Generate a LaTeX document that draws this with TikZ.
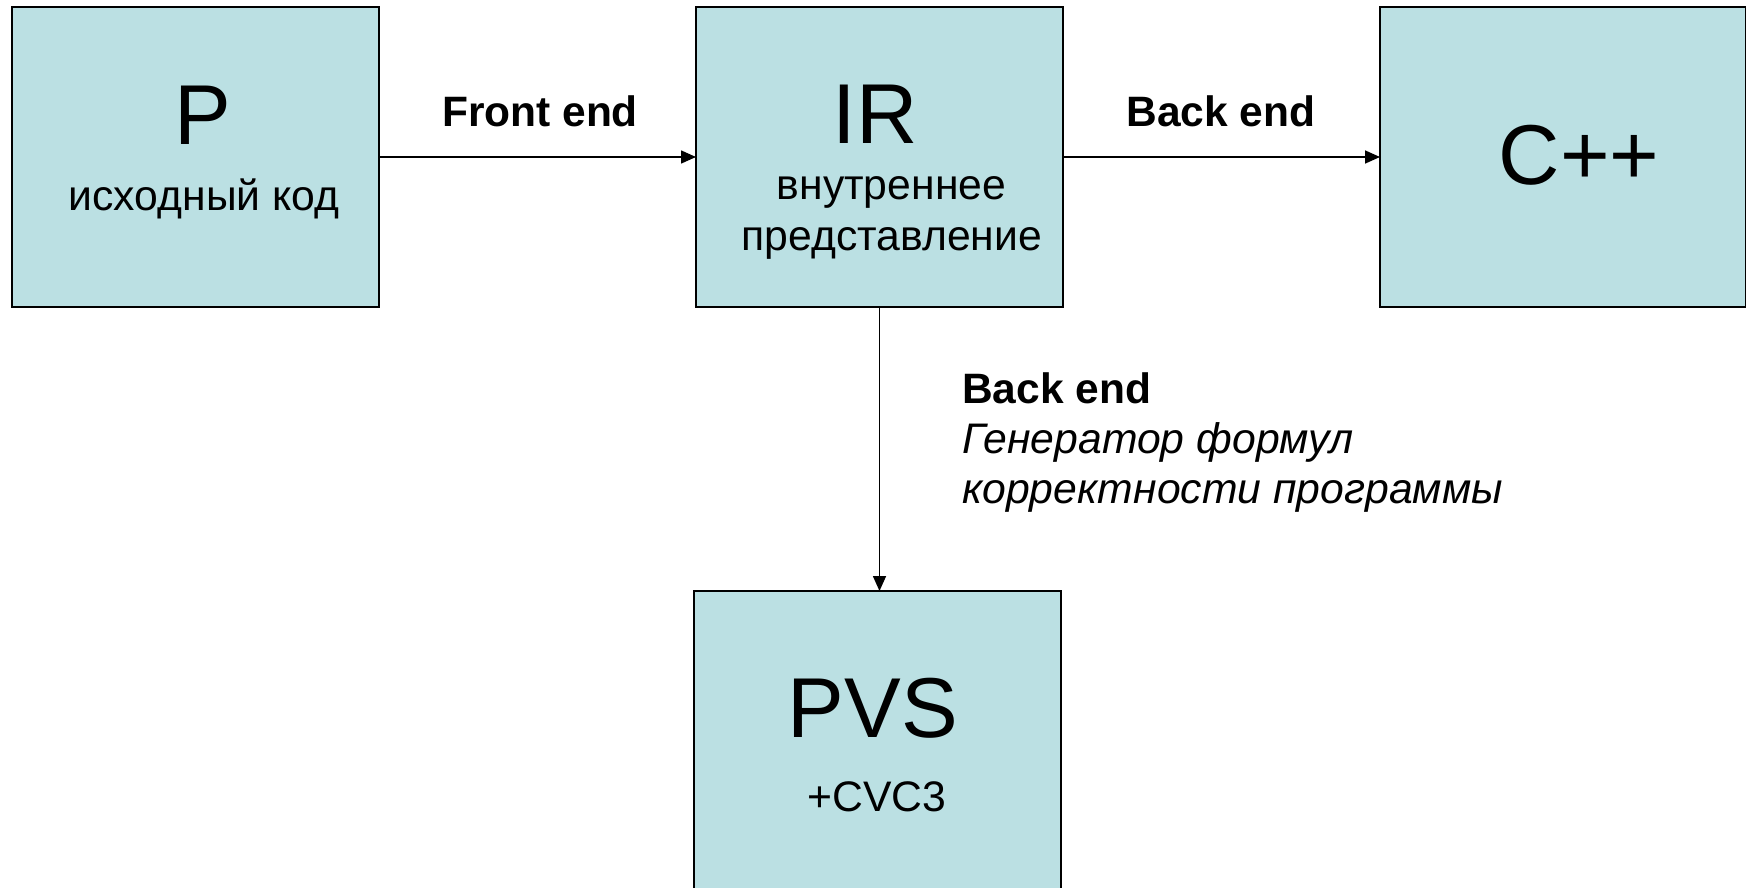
\documentclass[tikz,border=0pt]{standalone}
\usepackage{fontspec}
\setmainfont{Liberation Sans}
\usetikzlibrary{arrows.meta}
\definecolor{boxfill}{HTML}{BBE0E3}
\tikzset{
  blk/.style={draw=black, line width=2pt, fill=boxfill, minimum width=367pt, minimum height=300pt, inner sep=0pt, outer sep=0pt},
  big/.style={font=\fontsize{85}{100}\selectfont, inner sep=0pt, anchor=base},
  small/.style={font=\fontsize{42.7}{50}\selectfont, inner sep=0pt, anchor=base},
  lbl/.style={font=\fontsize{42.5}{50}\selectfont\bfseries, inner sep=0pt, anchor=base},
  conn/.style={line width=1.6pt, -{Triangle[length=15pt,width=13pt]}}
}
\begin{document}
\begin{tikzpicture}[x=1pt,y=-1pt]
\useasboundingbox (0,0) rectangle (1746,888);
\begin{scope}
\clip (0,0) rectangle (1746,888);
\node[blk] (pbox) at (195.5,157) {};
\node[blk] (irbox) at (879.5,157) {};
\node[blk, minimum width=366pt] (cbox) at (1563,157) {};
\node[blk] (pvsbox) at (877.5,741) {};
\end{scope}
\node[big] (ptxt) at (203,145) {P};
\node[small] (psub) at (204,210) {исходный код};
\node[big] (irtxt) at (875,144) {IR};
\node[small] (irsub1) at (891.5,199) {внутреннее};
\node[small] (irsub2) at (892,250) {представление};
\node[big] (ctxt) at (1579,185) {C++};
\node[big] (pvstxt) at (873,737) {PVS};
\node[small] (cvc) at (877,811) {+CVC3};
\draw[conn] (pbox.east) -- (irbox.west);
\draw[conn] (irbox.east) -- (cbox.west);
\draw[conn] (irbox.south) -- (irbox.south |- pvsbox.north);
\node[lbl] (fe) at (540,127) {Front end};
\node[lbl] (be1) at (1221,127) {Back end};
\node[lbl, anchor=base west] (be2) at (962,403) {Back end};
\node[small, anchor=base west, font=\fontsize{42.7}{50}\selectfont\itshape] (gen1) at (962,453) {Генератор формул};
\node[small, anchor=base west, font=\fontsize{42.7}{50}\selectfont\itshape] (gen2) at (962,503) {корректности программы};
\end{tikzpicture}
\end{document}
